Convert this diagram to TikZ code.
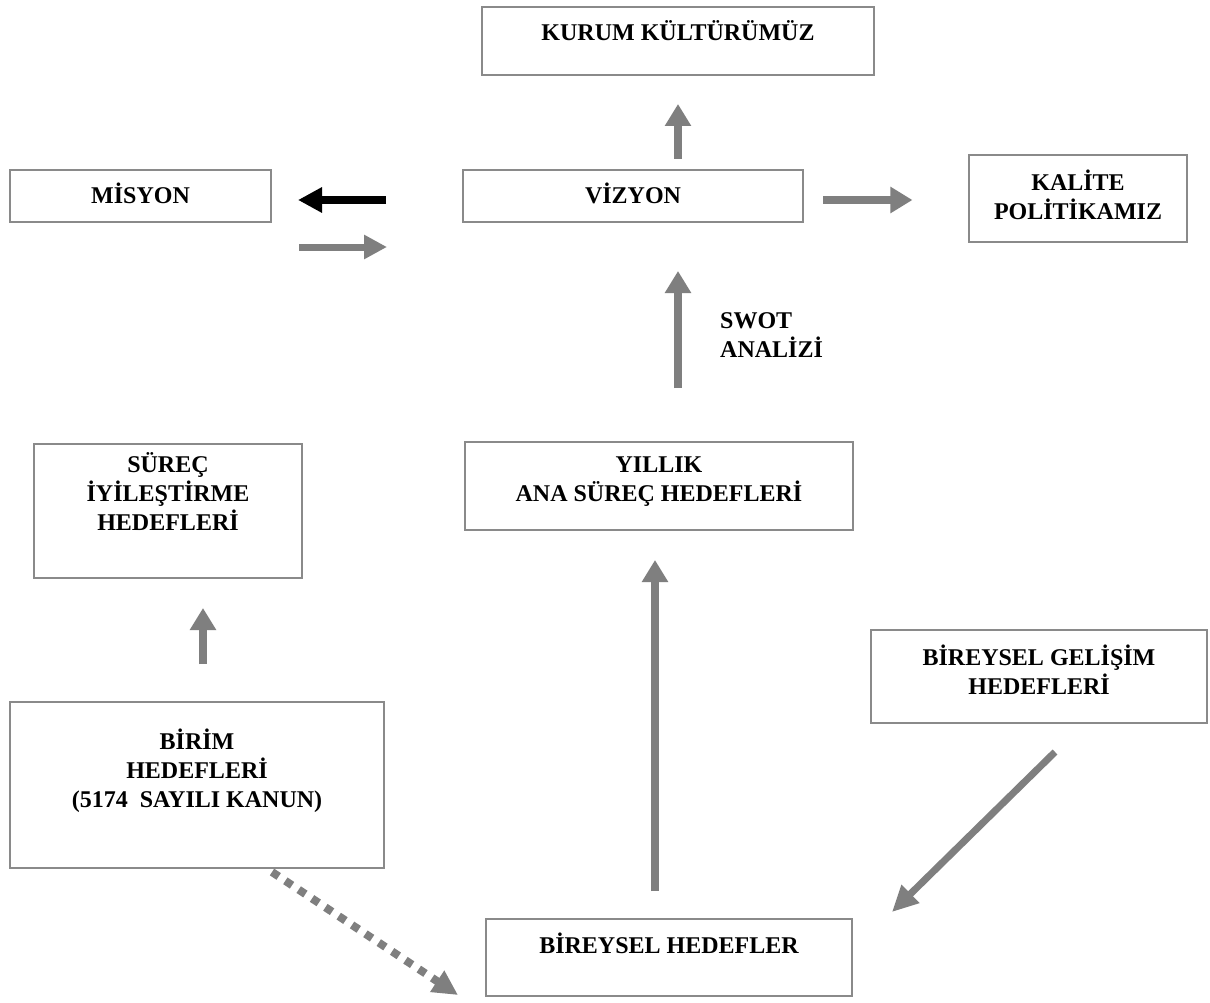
\documentclass[tikz,border=0pt]{standalone}
\usepackage{fontspec}
\setmainfont{Liberation Serif}
\usetikzlibrary{arrows.meta}
\definecolor{arrgray}{HTML}{7F7F7F}
\definecolor{boxgray}{HTML}{8A8A8A}
\begin{document}
\begin{tikzpicture}[x=1pt,y=-1pt,
  boxst/.style={draw=boxgray, line width=2pt, inner sep=0pt, fill=none},
  thinbox/.style={draw=boxgray, line width=1.1pt, inner sep=0pt},
  txt/.style={font=\bfseries\fontsize{24}{29}\selectfont, align=center, inner sep=0pt, anchor=base},
  garr/.style={draw=arrgray, line width=8.5pt, -{Triangle[width=25pt,length=22pt]}, arrgray},
  karr/.style={draw=black, line width=8pt, -{Triangle[width=24pt,length=24pt]}},
  darr/.style={draw=arrgray, line width=8pt, dash pattern=on 8pt off 8pt, -{Triangle[width=24pt,length=25pt]}, arrgray},
]
\useasboundingbox (0,0) rectangle (1210,1003);
\fill[white] (0,0) rectangle (1210,1003);

% boxes
\node[boxst, minimum width=392pt, minimum height=68pt] (kurum) at (678,41) {};
\node[boxst, minimum width=261pt, minimum height=52pt] (mis) at (140.5,196) {};
\node[boxst, minimum width=340pt, minimum height=52pt] (viz) at (633,196) {};
\node[thinbox, minimum width=218pt, minimum height=87pt] (kal) at (1078,198.5) {};
\node[boxst, minimum width=388pt, minimum height=88pt] (yil) at (659,486) {};
\node[boxst, minimum width=268pt, minimum height=134pt] (sur) at (168,511) {};
\node[boxst, minimum width=374pt, minimum height=166pt] (bir) at (197,785) {};
\node[boxst, minimum width=336pt, minimum height=93pt] (gel) at (1039,676.5) {};
\node[boxst, minimum width=366pt, minimum height=77pt] (bh) at (669,957.5) {};

% texts (anchor base = baseline of the last line)
\node[txt] (tkurum) at (678,41) {KURUM KÜLTÜRÜMÜZ};
\node[txt] (tmis) at (140.5,204) {MİSYON};
\node[txt] (tviz) at (633,204) {VİZYON};
\node[txt] (tkal) at (1078,220) {KALİTE\\POLİTİKAMIZ};
\node[txt, align=left, anchor=base west] (tswot) at (720,357) {SWOT\\ANALİZİ};
\node[txt] (tyil) at (659,501) {YILLIK\\ANA SÜREÇ HEDEFLERİ};
\node[txt] (tsur) at (168,530) {SÜREÇ\\İYİLEŞTİRME\\HEDEFLERİ};
\node[txt] (tbir) at (197,807) {BİRİM\\HEDEFLERİ\\(5174\ \ SAYILI KANUN)};
\node[txt] (tgel) at (1039,694) {BİREYSEL GELİŞİM\\HEDEFLERİ};
\node[txt] (tbh) at (669,953) {BİREYSEL HEDEFLER};

% coordinates for diagonal arrows
\coordinate (g1) at (1055,752);
\coordinate (g2) at (892,912);
\coordinate (d1) at (272,872);
\coordinate (d2) at (458,995);

% arrows
\draw[garr, shorten <=10pt, shorten >=28pt] (kurum.south |- viz.north) -- (kurum.south);
\draw[karr, shorten <=76pt, shorten >=26pt] ([yshift=-4pt]viz.west) -- ([yshift=-4pt]mis.east);
\draw[garr, line width=7pt, -{Triangle[width=23pt,length=23pt]}, shorten <=27pt, shorten >=75pt] ([yshift=-51pt]mis.east) -- ([yshift=-51pt]viz.west);
\draw[garr, shorten <=19pt, shorten >=56pt] ([yshift=-4pt]viz.east) -- ([yshift=-4pt]viz.east -| kal.west);
\draw[garr, shorten <=53pt, shorten >=48pt] ([xshift=19pt]yil.north) -- ([xshift=45pt]viz.south);
\draw[garr, shorten <=27pt, shorten >=29pt] ([xshift=-14pt]bh.north) -- ([xshift=-4pt]yil.south);
\draw[garr, shorten <=37pt, shorten >=29pt] ([xshift=6pt]bir.north) -- ([xshift=35pt]sur.south);
\draw[garr, line width=7pt, -{Triangle[width=24pt,length=26pt]}] (g1) -- (g2);
\draw[darr] (d1) -- (d2);
\end{tikzpicture}
\end{document}
